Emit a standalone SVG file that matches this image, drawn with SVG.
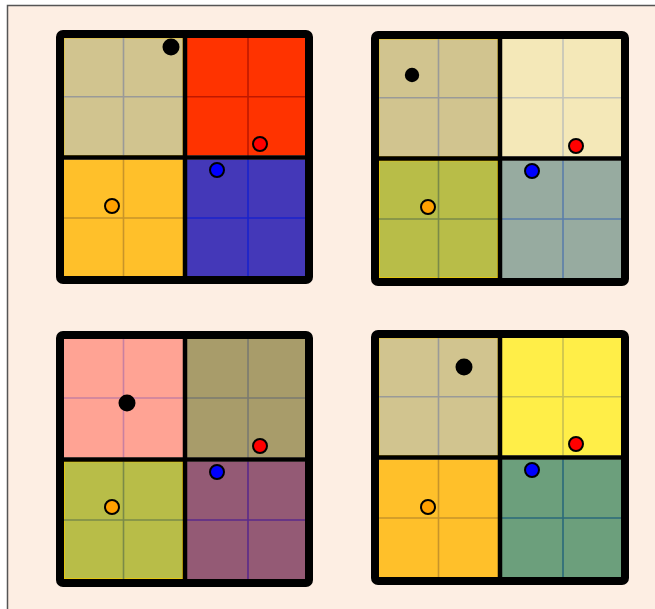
<svg xmlns="http://www.w3.org/2000/svg" width="655" height="609" viewBox="0 0 655 609">
<style>
.frame{fill:none;stroke:#000;stroke-width:8;stroke-linejoin:round}
.div{stroke:#000;stroke-width:4.5}
.g{stroke-width:1.6;fill:none}
.dot{stroke:#000;stroke-width:2}
</style>
<rect x="0" y="0" width="655" height="609" fill="#ffffff"/>
<rect x="7.5" y="5.5" width="660" height="620" fill="#fdeee3" stroke="#555" stroke-width="1.5"/>

<g id="panel1" transform="translate(60,34)">
<rect x="4" y="4" width="119" height="117.5" fill="#d1c48f" stroke="#e8c21a" stroke-width="1"/>
<rect x="127" y="4" width="119" height="117.5" fill="#ff3300"/>
<rect x="4" y="125.5" width="119" height="117.5" fill="#ffc02a"/>
<rect x="127" y="125.5" width="119" height="117.5" fill="#4438b8"/>
<path class="g" stroke="#9a9a98" d="M63.5 4V121.5M4 62.75H123"/>
<path class="g" stroke="#c01800" d="M188 4V121.5M127 62.75H246"/>
<path class="g" stroke="#c8942a" d="M63.5 125.5V243M4 184H123"/>
<path class="g" stroke="#1a22cc" d="M188 125.5V243M127 184H246"/>
<path class="div" d="M125 2V245M2 123.5H248"/>
<rect class="frame" x="0" y="0" width="249" height="246" rx="3"/>
<circle cx="111" cy="13" r="8.5" fill="#000"/>
<circle class="dot" cx="200" cy="110" r="7" fill="#ff0000"/>
<circle class="dot" cx="157" cy="136" r="7" fill="#0000ff"/>
<circle class="dot" cx="52" cy="172" r="7" fill="#ffa000"/>
</g>

<g id="panel2" transform="translate(375,35)">
<rect x="4" y="4" width="119" height="117.5" fill="#d1c48f" stroke="#e8c21a" stroke-width="1"/>
<rect x="127" y="4" width="119" height="117.5" fill="#f4e8b8"/>
<rect x="4" y="125.5" width="119" height="117.5" fill="#b8bd48" stroke="#f0c800" stroke-width="1.5"/>
<rect x="127" y="125.5" width="119" height="117.5" fill="#97aba0"/>
<path class="g" stroke="#9a9a98" d="M63.5 4V121.5M4 62.75H123"/>
<path class="g" stroke="#c2c2b8" d="M188 4V121.5M127 62.75H246"/>
<path class="g" stroke="#7a8a48" d="M63.5 125.5V243M4 184H123"/>
<path class="g" stroke="#5a7eaa" d="M188 125.5V243M127 184H246"/>
<path class="div" d="M125 2V245M2 123.5H248"/>
<rect class="frame" x="0" y="0" width="250" height="247" rx="3"/>
<circle cx="37" cy="40" r="7.2" fill="#000"/>
<circle class="dot" cx="201" cy="111" r="7" fill="#ff0000"/>
<circle class="dot" cx="157" cy="136" r="7" fill="#0000ff"/>
<circle class="dot" cx="53" cy="172" r="7" fill="#ffa000"/>
</g>

<g id="panel3" transform="translate(60,335)">
<rect x="4" y="4" width="119" height="118.5" fill="#ffa394"/>
<rect x="127" y="4" width="119" height="118.5" fill="#a89c6a"/>
<rect x="4" y="126.5" width="119" height="117.5" fill="#b8bd48" stroke="#f0c800" stroke-width="1.5"/>
<rect x="127" y="126.5" width="119" height="117.5" fill="#945a75"/>
<path class="g" stroke="#c880a0" d="M63.5 4V122.5M4 63H123"/>
<path class="g" stroke="#7a7a70" d="M188 4V122.5M127 63H246"/>
<path class="g" stroke="#7a8a48" d="M63.5 126.5V244M4 185H123"/>
<path class="g" stroke="#5a2a8a" d="M188 126.5V244M127 185H246"/>
<path class="div" d="M125 2V246M2 124.5H247"/>
<rect class="frame" x="0" y="0" width="249" height="248" rx="3"/>
<circle cx="67" cy="68" r="8.5" fill="#000"/>
<circle class="dot" cx="200" cy="111" r="7" fill="#ff0000"/>
<circle class="dot" cx="157" cy="137" r="7" fill="#0000ff"/>
<circle class="dot" cx="52" cy="172" r="7" fill="#ffa000"/>
</g>

<g id="panel4" transform="translate(375,334)">
<rect x="4" y="4" width="119" height="117.5" fill="#d1c48f" stroke="#e8c21a" stroke-width="1"/>
<rect x="127" y="4" width="119" height="117.5" fill="#ffee48"/>
<rect x="4" y="125.5" width="119" height="117.5" fill="#ffc02a"/>
<rect x="127" y="125.5" width="119" height="117.5" fill="#6c9f7c"/>
<path class="g" stroke="#9a9a98" d="M63.5 4V121.5M4 62.75H123"/>
<path class="g" stroke="#c8c050" d="M188 4V121.5M127 62.75H246"/>
<path class="g" stroke="#c8942a" d="M63.5 125.5V243M4 184H123"/>
<path class="g" stroke="#2a6a7a" d="M188 125.5V243M127 184H246"/>
<path class="div" d="M125 2V245M2 123.5H248"/>
<rect class="frame" x="0" y="0" width="250" height="247" rx="3"/>
<circle cx="89" cy="33" r="8.5" fill="#000"/>
<circle class="dot" cx="201" cy="110" r="7" fill="#ff0000"/>
<circle class="dot" cx="157" cy="136" r="7" fill="#0000ff"/>
<circle class="dot" cx="53" cy="173" r="7" fill="#ffa000"/>
</g>
<g id="connectors"/>
</svg>
